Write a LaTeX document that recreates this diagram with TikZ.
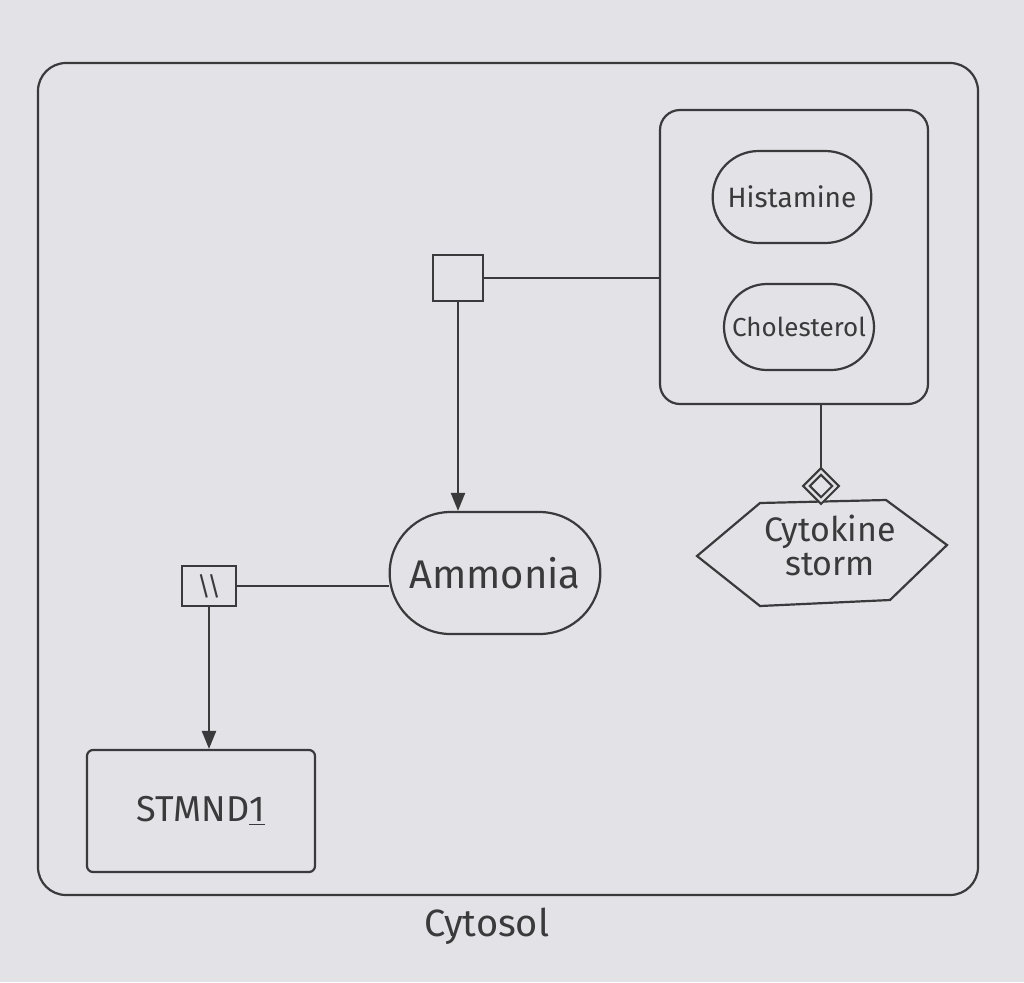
\documentclass[tikz,border=0pt]{standalone}
\usepackage{fontspec}
\setmainfont{Fira Sans}
\usetikzlibrary{arrows.meta,shapes.geometric,shapes.misc}
\definecolor{paper}{HTML}{E3E3E7}
\definecolor{ink}{HTML}{3A3A3C}
\tikzset{
  ink/.style={draw=ink, line width=1.1pt, text=ink},
  comp/.style={ink, rectangle, rounded corners=14pt, fill=paper},
  cplx/.style={ink, rectangle, rounded corners=10pt, fill=paper},
  simple/.style={ink, rounded rectangle, fill=paper},
  macro/.style={ink, rectangle, rounded corners=3pt, fill=paper},
  proc/.style={ink, rectangle, fill=paper, inner sep=0pt},
  modd/.style={ink, diamond, double=paper, double distance=1.2pt, fill=paper, minimum width=15pt, minimum height=15pt, inner sep=0pt},
  link/.style={draw=ink, line width=1.1pt},
  arr/.style={link, -{Triangle[length=9pt,width=7pt]}},
}
\begin{document}
\begin{tikzpicture}[x=0.5pt,y=-0.5pt]
\useasboundingbox[fill=paper] (0,0) rectangle (1024,982);
% compartment
\node[comp, minimum width=470pt, minimum height=416pt] (cyt) at (508,479) {};
\node[text=ink, font=\fontsize{19}{22}\selectfont] (cytl) at (487,926) {Cytosol};
% complex
\node[cplx, minimum width=134pt, minimum height=147pt] (cx) at (794,257) {};
\node[simple, minimum width=86pt, minimum height=46pt, font=\fontsize{14}{16}\selectfont] (his) at (792,197) {Histamine};
\node[simple, minimum width=79pt, minimum height=43pt, inner xsep=2pt, font=\fontsize{13}{16}\selectfont] (cho) at (799,327) {Cholesterol};
% process nodes
\node[proc, minimum width=25pt, minimum height=23pt] (sq) at (458,278) {};
\node[proc, minimum width=27pt, minimum height=20pt, font=\fontsize{13}{14}\selectfont] (om) at (209,586) {\textbackslash\textbackslash};
% ammonia
\node[simple, minimum width=112pt, minimum height=61pt, font=\fontsize{20}{24}\selectfont] (am) at (495,573) {Ammonia};
% STMND1
\node[macro, minimum width=114pt, minimum height=61pt, font=\fontsize{18}{22}\selectfont] (stm) at (201,811) {STMND\underline{1}};
% cytokine storm (phenotype)
\draw[ink, fill=paper] (697,556) -- (760,503) -- (886,500) -- (947,545) -- (890,600) -- (760,606) -- cycle;
\node[text=ink, align=center, font=\fontsize{17}{17}\selectfont, minimum width=120pt, minimum height=52pt] (cs) at (830,545) {Cytokine\\storm};
% modulation diamond
\node[modd] (mod) at (821,486) {};
% connectors
\draw[link] (sq.east) -- (sq.east -| cx.west);
\draw[arr] (sq.south) -- (sq.south |- am.north);
\draw[link] (om.east) -- (om.east -| am.west);
\draw[arr] (om.south) -- (om.south |- stm.north);
\draw[link] (mod.north |- cx.south) -- (mod.north);
\end{tikzpicture}
\end{document}
